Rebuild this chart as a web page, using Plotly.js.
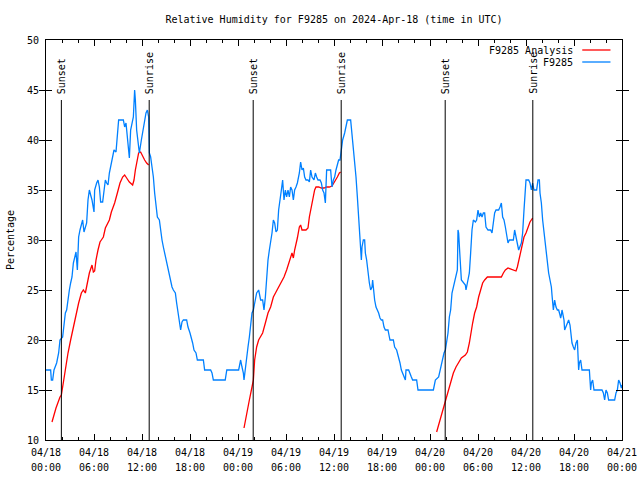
<!DOCTYPE html>
<html>
<head>
<meta charset="utf-8">
<script src="https://cdn.plot.ly/plotly-3.0.1.min.js"></script>
<style>html,body{margin:0;padding:0;background:#fff;}#chart{width:640px;height:480px;}</style>
</head>
<body>
<div id="chart"></div>
<script>
// Hours since 2024-04-18 00:00 UTC
const obsHours = [0,0.58,0.67,0.83,1.0,1.33,1.58,1.75,2.08,2.25,2.42,2.58,2.75,2.92,3.08,3.25,3.42,3.58,3.75,3.92,4.08,4.25,4.42,4.58,4.75,5.08,5.25,5.42,5.58,5.75,6.0,6.08,6.33,6.5,6.67,6.83,7.08,7.25,7.42,7.58,7.75,7.92,8.17,8.33,8.5,8.75,8.92,9.08,9.67,9.83,10.0,10.17,10.33,10.42,10.58,10.92,11.08,11.17,11.33,11.5,11.67,11.92,12.08,12.33,12.5,12.67,12.83,12.92,13.08,13.25,13.42,13.58,13.75,13.92,14.17,14.33,14.5,14.67,14.83,15.0,15.17,15.33,15.5,15.75,15.92,16.17,16.33,16.5,16.67,16.83,17.0,17.17,17.58,17.75,18.0,18.17,18.33,18.5,18.75,18.92,19.67,19.83,20.58,20.75,20.92,22.4,22.6,24.08,24.33,24.5,24.67,24.75,24.92,25.08,25.25,25.42,25.58,25.75,25.92,26.08,26.33,26.58,26.83,27.08,27.25,27.42,27.58,27.75,27.92,28.08,28.25,28.42,28.58,28.75,28.92,29.08,29.25,29.42,29.58,29.75,29.92,30.08,30.25,30.42,30.58,30.75,30.92,31.08,31.25,31.42,31.67,31.83,32.0,32.17,32.33,32.5,32.75,32.92,33.08,33.25,33.5,33.67,33.83,34.0,34.25,34.42,34.58,34.75,34.92,35.08,35.58,35.75,35.92,36.08,36.25,36.42,36.58,36.75,36.92,37.08,37.33,37.5,37.67,38.08,38.17,38.42,38.58,38.75,38.92,39.08,39.17,39.33,39.42,39.5,39.67,39.83,39.92,40.08,40.25,40.42,40.58,40.75,40.83,40.92,41.08,41.25,41.42,41.58,41.75,41.92,42.08,42.25,42.42,42.75,42.92,43.0,43.42,43.58,43.83,44.08,44.25,44.42,44.58,44.92,45.0,45.33,45.67,45.83,46.33,46.5,48.42,48.67,49.08,49.25,49.58,49.75,49.92,50.08,50.25,50.42,50.58,50.75,50.92,51.08,51.25,51.42,51.5,51.58,51.75,51.92,52.42,52.5,52.67,52.92,53.08,53.25,53.42,53.67,53.83,54.0,54.17,54.33,54.5,54.67,54.83,55.0,55.25,55.58,55.75,55.92,56.08,56.25,56.58,56.75,56.92,57.08,57.25,57.42,57.58,57.75,57.92,58.42,58.58,58.75,58.92,59.08,59.42,59.58,59.75,59.83,60.0,60.33,60.5,60.67,60.83,61.0,61.33,61.5,61.67,61.75,61.92,62.08,62.25,62.42,62.58,62.67,62.83,63.0,63.17,63.25,63.33,63.42,63.58,63.75,63.92,64.08,64.25,64.33,64.42,64.5,64.58,64.75,64.83,65.0,65.17,65.33,65.5,65.58,65.75,65.92,66.08,66.25,66.42,66.5,66.58,66.67,66.83,67.0,67.92,68.0,68.08,68.17,68.33,68.5,69.5,69.67,69.83,70.0,70.17,70.33,71.08,71.25,71.42,71.58,71.75,71.92,72.0];
const obsRH = [17,17,16,16,17,17.7,18.7,20,20.3,21.3,22.7,23,24.3,25,25.7,26.3,27.7,28.3,28.8,27,30.3,31,31.7,32,30.8,31.7,34,35,34.5,34,32.8,35,35.7,36,35.3,33.8,33.8,35,36,35.7,35.5,36.7,37.7,38.7,39,38.8,40.3,42,42,41.3,41.7,40.3,38.8,38.2,41,42.3,45,44,41,39.5,38.7,40,40.7,41.7,42.7,43,42.3,38.7,38.3,37.3,36.3,34.7,33.7,32.3,32,30.7,30,29.3,28.7,28,27.3,26.7,26,25.3,25,24.7,23.7,22.7,22,21,21.8,22,22,21.3,20.7,20.3,19.7,19,18.7,18,18,17,17,16.7,16,16,17,17,18,17.3,16.7,16,17.3,18,19.3,20.3,21.3,22.7,23,23.7,24.7,25,24,24,23,24.3,26.7,28,29,29.7,30.7,32,31.7,30.8,31,33,34.3,35,36,34,35,34.3,35,34.3,35.3,35,34,35,35.3,35.7,36.7,37.8,37,37.2,36.3,36,36,35.8,37,36.3,36,36.7,36.3,36,36,35.7,35,34.7,33.7,37,37,35.3,36,36.3,37,37.7,38,38,39.3,40,40.7,41.3,42,42,41.3,39.3,38,36.3,34.3,32,30.3,28.7,28,29.3,30,30,28.7,28,26.7,25.7,25,25.3,26,25,24,23.3,23,22.7,22.2,22,22,21.3,21,21,20.3,20,20,19.3,19,18.3,17.7,17,16.7,16,17,17,16.3,16,16,15,15,16,16.3,17,18,18.7,19,19.7,20.7,22.3,23,24.7,25.3,26,26.7,27,31,30.7,28.3,26,25.5,25,25.7,26.7,28.7,31,32,31.8,32,33,32.3,32.7,32.3,32.7,32.7,31.3,31,31,30.7,31.7,32.7,33,33,33.3,33.7,32.3,32,31.3,30.3,29.7,30,30,31,30.3,29.7,29,29.7,30.7,33,33.7,36,36,35.7,35,35.7,35,35,36,36,34.7,33.7,32,30.7,29.3,28.3,27.3,26.7,26,25.3,24.5,23.7,23,24,23.3,23,23,22.5,22.2,22.5,23,22.7,22,21,21.3,21.7,22,21.5,20.7,19.7,19.3,19,19.7,20,18.5,17,17.7,18,17,17,16,15,15.7,16,15,15,14.7,14,15,14.7,14,14,14.7,15,16,15.7,15.2,15.5];

const anaHours = [0.75,1.25,1.75,1.92,2.08,2.42,2.75,3.08,3.42,3.75,4.08,4.42,4.67,4.92,5.08,5.42,5.75,5.92,6.08,6.25,6.5,6.75,6.92,7.17,7.42,7.67,7.92,8.17,8.58,8.92,9.25,9.58,9.83,10.08,10.42,10.83,11.0,11.17,11.42,11.58,11.83,12.08,12.33,12.58,12.83,
  null,
  24.75,25.08,25.42,25.75,25.92,26.08,26.33,26.58,26.83,27.08,27.42,27.75,28.08,28.42,28.75,29.08,29.42,29.75,30.08,30.42,30.75,30.92,31.08,31.42,31.67,31.83,32.0,32.5,32.75,32.92,33.08,33.33,33.58,33.75,34.08,34.42,34.75,35.08,35.42,35.75,35.92,36.17,36.42,36.67,36.83,
  null,
  48.83,49.08,49.33,49.58,49.92,50.25,50.58,50.92,51.25,51.58,51.92,52.42,52.67,52.92,53.08,53.33,53.58,53.83,54.08,54.33,54.58,54.83,55.17,55.58,56.0,56.58,56.92,57.17,57.42,57.75,58.08,58.42,58.75,58.92,59.17,59.42,59.75,60.0,60.25,60.5,60.83];
const anaRH = [11.8,13.2,14.3,14.5,15.3,17.3,18.7,20,21.3,22.7,23.7,24.7,25,24.7,25.3,26.7,27.5,26.8,26.9,28,29,29.8,30,30.3,31.2,31.7,32,32.8,33.7,34.7,35.7,36.3,36.5,36.2,35.8,35.5,36,37,38,38.7,38.8,38.3,38,37.7,37.5,
  null,
  11.2,12.7,14,15.3,16,18,19.3,20,20.3,20.7,21.7,22.7,23.3,24.3,24.8,25.3,25.8,26.3,27,28,28.7,28.2,29,30.2,31.3,31.5,31,31,31.2,32.3,33,34.3,35,35.3,35.3,35.2,35.2,35.3,35.3,35.4,35.6,36,36.3,36.7,36.8,
  null,
  10.8,11.5,12.3,13,13.8,14.7,15.7,16.7,17.3,17.8,18.2,18.5,18.8,19.7,20.7,21.7,22.7,23.3,24.3,25,25.7,26,26.3,26.3,26.3,26.3,26.3,26.7,27,27.2,27.1,27,26.9,27.3,28.3,29.3,30.3,30.7,31.3,31.8,32.2];

const sunHours = [1.92, 12.9, 25.9, 36.9, 49.9, 60.85];
const sunLabels = ["Sunset", "Sunrise", "Sunset", "Sunrise", "Sunset", "Sunrise"];
const sunLineTop = 44;

const tickHours = [0,6,12,18,24,30,36,42,48,54,60,66,72];
const tickDates = ["04/18","04/18","04/18","04/18","04/19","04/19","04/19","04/19","04/20","04/20","04/20","04/20","04/21"];
const tickTimes = ["00:00","06:00","12:00","18:00","00:00","06:00","12:00","18:00","00:00","06:00","12:00","18:00","00:00"];

const seriesNames = ["F9285 Analysis", "F9285"];
const seriesColors = ["#ff0000", "#0080ff"];

const FONT = {family: "DejaVu Sans Mono, Liberation Mono, monospace", size: 10, color: "#000"};

const traces = [
  {x: anaHours, y: anaRH, name: seriesNames[0], type: "scatter", mode: "lines",
   line: {color: seriesColors[0], width: 1.3}, connectgaps: false, hoverinfo: "skip"},
  {x: obsHours, y: obsRH, name: seriesNames[1], type: "scatter", mode: "lines",
   line: {color: seriesColors[1], width: 1.3}, hoverinfo: "skip"},
  // invisible helper so the second-row time labels axis is drawn
  {x: [tickHours[0], tickHours[tickHours.length - 1]], y: [null, null], xaxis: "x2", yaxis: "y",
   type: "scatter", mode: "lines", showlegend: false, hoverinfo: "skip"}
];

const shapes = sunHours.map(h => ({
  type: "line", xref: "x", yref: "y", x0: h, x1: h, y0: 10, y1: sunLineTop,
  line: {color: "#000", width: 1}
}));
const annotations = sunHours.map((h, i) => ({
  x: h, y: sunLineTop, xref: "x", yref: "y", text: sunLabels[i], textangle: -90,
  showarrow: false, xanchor: "center", yanchor: "bottom", yshift: 5, font: FONT,
  borderpad: 0
}));

// Legend (text left, line sample right, as in the reference)
const legendRows = [0.975, 0.945];
seriesNames.forEach((n, i) => {
  annotations.push({x: 0.916, y: legendRows[i], xref: "paper", yref: "paper", text: n,
    showarrow: false, xanchor: "right", yanchor: "middle", font: FONT, borderpad: 0});
  shapes.push({type: "line", xref: "paper", yref: "paper", x0: 0.931, x1: 0.98,
    y0: legendRows[i], y1: legendRows[i], line: {color: seriesColors[i], width: 1.3}});
});

const layout = {
  width: 640, height: 480,
  margin: {l: 46, r: 18, t: 40, b: 40},
  paper_bgcolor: "#fff", plot_bgcolor: "#fff",
  font: FONT,
  showlegend: false,
  title: {text: "Relative Humidity for F9285 on 2024-Apr-18 (time in UTC)", font: FONT,
          x: 0.5, xref: "paper", xanchor: "center", y: 0.96, yref: "container", yanchor: "middle"},
  xaxis: {
    range: [0, 72], tickmode: "array", tickvals: tickHours, ticktext: tickDates,
    ticks: "inside", ticklen: 6, tickcolor: "#000", tickwidth: 1,
    minor: {tickmode: "linear", tick0: 0, dtick: 2, ticks: "inside", ticklen: 3, tickcolor: "#000", tickwidth: 1, showgrid: false},
    showline: true, linecolor: "#000", linewidth: 1, mirror: "allticks",
    showgrid: false, zeroline: false, tickfont: FONT, ticklabelstandoff: 3
  },
  xaxis2: {
    range: [0, 72], overlaying: "x", anchor: "y", side: "bottom",
    tickmode: "array", tickvals: tickHours, ticktext: tickTimes,
    ticks: "", showline: false, showgrid: false, zeroline: false,
    tickfont: FONT, ticklabelstandoff: 20
  },
  yaxis: {
    range: [10, 50], tickmode: "linear", tick0: 10, dtick: 5,
    ticks: "inside", ticklen: 6, tickcolor: "#000", tickwidth: 1,
    showline: true, linecolor: "#000", linewidth: 1, mirror: "allticks",
    showgrid: false, zeroline: false, tickfont: FONT, ticklabelstandoff: 4,
    title: {text: "Percentage", font: FONT, standoff: 10}
  },
  shapes: shapes,
  annotations: annotations
};

Plotly.newPlot("chart", traces, layout, {staticPlot: true, displayModeBar: false});
</script>
</body>
</html>
